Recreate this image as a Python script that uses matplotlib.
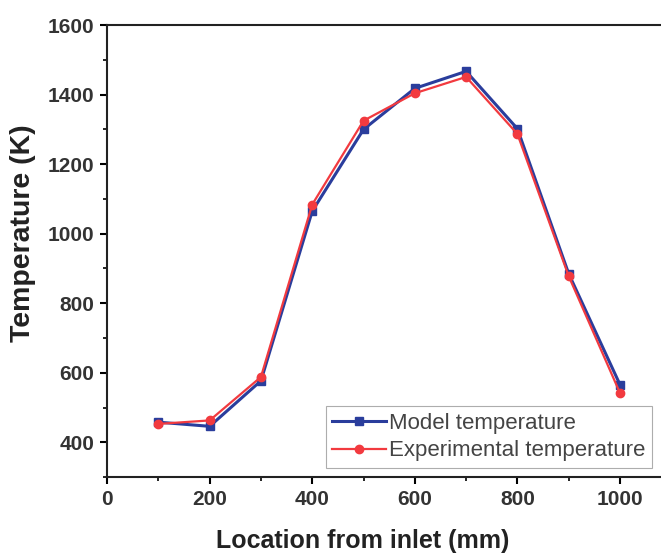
import matplotlib.pyplot as plt
from matplotlib.ticker import MultipleLocator

# location along the reactor (mm)
location = [100, 200, 300, 400, 500, 600, 700, 800, 900, 1000]
model_temp = [458, 446, 577, 1065, 1300, 1418, 1467, 1302, 885, 566]
exp_temp = [453, 463, 588, 1084, 1325, 1404, 1451, 1287, 878, 542]

plt.rcParams['font.family'] = ['Liberation Sans', 'DejaVu Sans']

fig = plt.figure(figsize=(6.61, 5.58), dpi=100)
ax = fig.add_axes([0.162, 0.145, 0.838, 0.81])

ax.plot(location, model_temp, color='#2a3d9c', marker='s', markersize=6,
        linewidth=2.2, label='Model temperature')
ax.plot(location, exp_temp, color='#f23a3f', marker='o', markersize=6,
        linewidth=1.6, label='Experimental temperature')

ax.set_xlim(0, 1080)
ax.set_ylim(300, 1600)
ax.xaxis.set_major_locator(MultipleLocator(200))
ax.xaxis.set_minor_locator(MultipleLocator(100))
ax.yaxis.set_major_locator(MultipleLocator(200))
ax.yaxis.set_minor_locator(MultipleLocator(100))

ax.spines['right'].set_visible(False)
for s in ['left', 'bottom', 'top']:
    ax.spines[s].set_linewidth(1.5)
    ax.spines[s].set_color('#222222')

ax.tick_params(which='major', length=5, width=1.5, labelsize=15, pad=4)
ax.tick_params(which='minor', length=3, width=1.2)
for lab in ax.get_xticklabels() + ax.get_yticklabels():
    lab.set_fontweight('bold')
    lab.set_color('#333333')

ax.set_xlabel('Location from inlet (mm)', fontsize=18, fontweight='bold',
              color='#222222')
ax.xaxis.set_label_coords(0.462, -0.115)
ax.set_ylabel('Temperature (K)', fontsize=20.5, fontweight='bold',
              color='#222222')
ax.yaxis.set_label_coords(-0.128, 0.54)

leg = ax.legend(loc='lower right', fontsize=16, frameon=True, fancybox=False,
                handlelength=2.4, handletextpad=0.15, borderpad=0.3,
                labelspacing=0.3, borderaxespad=0,
                bbox_to_anchor=(0.984, 0.02))
leg.get_frame().set_edgecolor('#999999')
leg.get_frame().set_linewidth(0.8)
for t in leg.get_texts():
    t.set_color('#444444')

plt.savefig('out.png')
